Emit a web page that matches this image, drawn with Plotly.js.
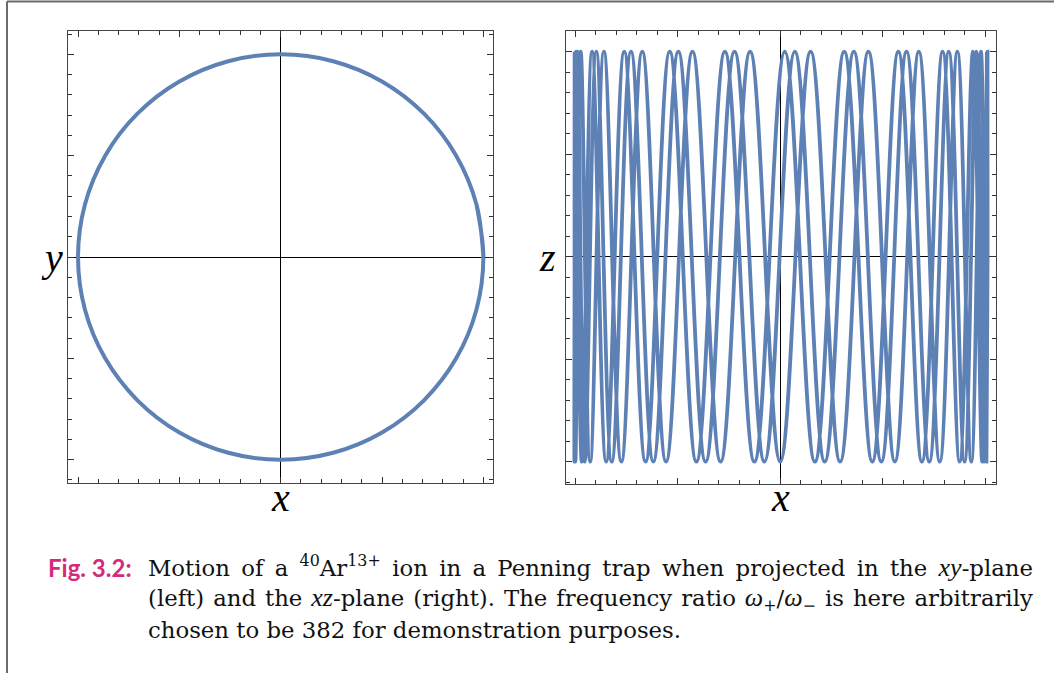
<!DOCTYPE html>
<html>
<head>
<meta charset="utf-8">
<script src="https://cdn.plot.ly/plotly-3.0.1.min.js"></script>
<style>
  html, body { margin: 0; padding: 0; background: #fff; }
  #chart { width: 1054px; height: 673px; }
</style>
</head>
<body>
<div id="chart"></div>
<script>
// ---- Data ----
// xy-plane projection: magnetron circle (points read around the drawn circle)
var circleX = [1.000, 0.966, 0.866, 0.707, 0.500, 0.259, 0.000, -0.259, -0.500, -0.707, -0.866, -0.966,
               -1.000, -0.966, -0.866, -0.707, -0.500, -0.259, 0.000, 0.259, 0.500, 0.707, 0.866, 0.966, 1.000, 0.966];
var circleY = [0.000, 0.259, 0.500, 0.707, 0.866, 0.966, 1.000, 0.966, 0.866, 0.707, 0.500, 0.259,
               0.000, -0.259, -0.500, -0.707, -0.866, -0.966, -1.000, -0.966, -0.866, -0.707, -0.500, -0.259, 0.000, 0.259];

// xz-plane projection: x positions of the turning points (tops / bottoms) of the axial
// oscillation, in drawing order (read from the arches along the top and bottom edges)
var xzTurnX = [1.008, 0.985, 0.940, 0.875, 0.792, 0.691, 0.576, 0.449, 0.312, 0.169,
               0.022, -0.126, -0.270, -0.409, -0.539, -0.657, -0.761, -0.849, -0.918, -0.968,
               -0.996, -1.004, -0.989, -0.954, -0.897, -0.822, -0.728, -0.619, -0.497, -0.364,
               -0.223, -0.077, 0.071, 0.217, 0.359, 0.493, 0.616, 0.727, 0.822, 0.899,
               0.957, 0.995, 1.011, 1.006, 0.979, 0.932, 0.864, 0.778, 0.676, 0.559,
               0.430, 0.292, 0.148, 0.000, -0.147, -0.291, -0.428, -0.557, -0.673, -0.775,
               -0.860, -0.927, -0.973, -0.999, -1.003];
var xzTurnZ = [1, -1, 1, -1, 1, -1, 1, -1, 1, -1,
               1, -1, 1, -1, 1, -1, 1, -1, 1, -1,
               1, -1, 1, -1, 1, -1, 1, -1, 1, -1,
               1, -1, 1, -1, 1, -1, 1, -1, 1, -1,
               1, -1, 1, -1, 1, -1, 1, -1, 1, -1,
               1, -1, 1, -1, 1, -1, 1, -1, 1, -1,
               1, -1, 1, -1, 1];

// Labels
var axisLabels = {leftX: 'x', leftY: 'y', rightX: 'x', rightY: 'z'};
var captionTag = 'Fig. 3.2:';
var M = function (s) { return '<span style="font-family:Liberation Serif;font-size:26px"><i>' + s + '</i></span>'; };
var captionLines = [
  'Motion of a <sup>40</sup>Ar<sup>13+</sup> ion in a Penning trap when projected in the ' + M('xy') + '-plane',
  '(left) and the ' + M('xz') + '-plane (right). The frequency ratio ' + M('ω') + '<sub>+</sub>/' + M('ω') + '<sub>−</sub> is here arbitrarily',
  'chosen to be 382 for demonstration purposes.'
];

// ---- Layout helpers (page pixels -> paper fractions) ----
var W = 1054, H = 673;
function px(x) { return x / W; }
function py(y) { return 1 - y / H; }

var lineColor = '#5E81B5';

var traces = [
  {x: circleX, y: circleY, xaxis: 'x', yaxis: 'y', type: 'scatter', mode: 'lines',
   line: {color: lineColor, width: 4, shape: 'spline', smoothing: 1}, hoverinfo: 'skip'},
  {x: xzTurnX, y: xzTurnZ, xaxis: 'x2', yaxis: 'y2', type: 'scatter', mode: 'lines',
   line: {color: lineColor, width: 3.8, shape: 'spline', smoothing: 1.1}, hoverinfo: 'skip'}
];

function frameAxis(domain, range, anchor) {
  return {
    domain: domain, range: range, anchor: anchor,
    showgrid: false, zeroline: true, zerolinecolor: '#000', zerolinewidth: 1,
    showline: true, linecolor: '#444', linewidth: 1, mirror: 'ticks',
    ticks: 'inside', ticklen: 6, tickwidth: 1, tickcolor: '#333',
    tick0: 0, dtick: 0.5, showticklabels: false,
    minor: {ticks: 'inside', ticklen: 4, tickwidth: 1, tickcolor: '#333', dtick: 0.1, showgrid: false},
    fixedrange: true
  };
}

var capFont = {family: 'DejaVu Serif', size: 22.8, color: '#111'};
var labFont = {family: 'Liberation Serif', size: 40, color: '#000', style: 'italic'};
var capLeft = 147, capRight = 1032;

var layout = {
  width: W, height: H,
  margin: {l: 0, r: 0, t: 0, b: 0},
  paper_bgcolor: '#fff', plot_bgcolor: '#fff',
  showlegend: false,
  xaxis: frameAxis([px(68.3), px(493.3)], [-1.048, 1.049], 'y'),
  yaxis: frameAxis([py(483), py(31)], [-1.115, 1.115], 'x'),
  xaxis2: frameAxis([px(566), px(995.7)], [-1.045, 1.051], 'y2'),
  yaxis2: frameAxis([py(484), py(31)], [-1.109, 1.101], 'x2'),
  shapes: [
    {type: 'line', xref: 'paper', yref: 'paper', x0: px(7), x1: 1, y0: py(1.5), y1: py(1.5),
     line: {color: '#6b6b6b', width: 2}},
    {type: 'line', xref: 'paper', yref: 'paper', x0: px(7), x1: px(7), y0: py(1.5), y1: 0,
     line: {color: '#6b6b6b', width: 2}}
  ],
  annotations: [
    {text: axisLabels.leftY, xref: 'paper', yref: 'paper', x: px(52), y: py(257), xanchor: 'center', yanchor: 'middle',
     showarrow: false, font: labFont},
    {text: axisLabels.leftX, xref: 'paper', yref: 'paper', x: px(280), y: py(497), xanchor: 'center', yanchor: 'middle',
     showarrow: false, font: labFont},
    {text: axisLabels.rightY, xref: 'paper', yref: 'paper', x: px(547), y: py(257), xanchor: 'center', yanchor: 'middle',
     showarrow: false, font: labFont},
    {text: axisLabels.rightX, xref: 'paper', yref: 'paper', x: px(780), y: py(497), xanchor: 'center', yanchor: 'middle',
     showarrow: false, font: labFont},
    {text: '<b>' + captionTag + '</b>', xref: 'paper', yref: 'paper', x: px(134), y: py(567), xanchor: 'right', yanchor: 'middle',
     showarrow: false, font: {family: 'Lato', size: 24, color: '#D42A7E'}},
    {text: captionLines[0], xref: 'paper', yref: 'paper', x: px(capLeft), y: py(566), xanchor: 'left', yanchor: 'middle',
     align: 'left', showarrow: false, borderpad: 0, font: capFont},
    {text: captionLines[1], xref: 'paper', yref: 'paper', x: px(capLeft), y: py(598.5), xanchor: 'left', yanchor: 'middle',
     align: 'left', showarrow: false, borderpad: 0, font: capFont},
    {text: captionLines[2], xref: 'paper', yref: 'paper', x: px(capLeft), y: py(629.5), xanchor: 'left', yanchor: 'middle',
     align: 'left', showarrow: false, borderpad: 0, font: capFont}
  ]
};

// Justify the first two caption lines (as in the typeset reference) by widening word spaces.
function justify(gd) {
  [5, 6].forEach(function (idx) {
    var t = gd.querySelector('g.annotation[data-index="' + idx + '"] text.annotation-text');
    if (!t) return;
    var w = t.getBBox().width;
    var spaces = (t.textContent.match(/ /g) || []).length;
    var extra = (capRight - capLeft - w) / Math.max(spaces, 1);
    if (extra > 0 && extra < 8) {
      t.style.wordSpacing = extra.toFixed(2) + 'px';
    }
  });
}

Plotly.newPlot('chart', traces, layout, {staticPlot: true, displayModeBar: false}).then(function (gd) {
  justify(gd);
});
</script>
</body>
</html>
